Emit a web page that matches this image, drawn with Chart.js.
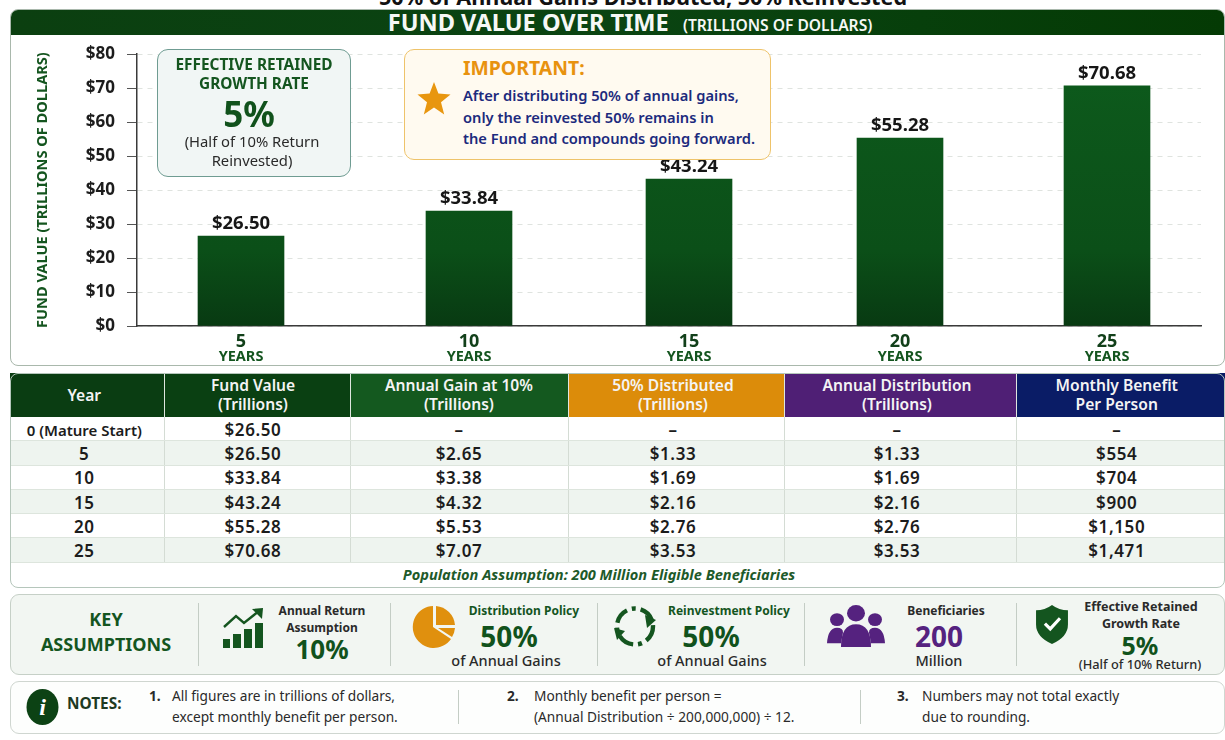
<!DOCTYPE html>
<html>
<head>
<meta charset="utf-8">
<script src="https://cdn.jsdelivr.net/npm/chart.js@4"></script>
<style>
  html, body { margin: 0; padding: 0; background: #fff; }
  body { width: 1225px; height: 740px; position: relative; overflow: hidden; font-family: "Noto Sans", sans-serif; color: #1c1c1c; }
  .abs { position: absolute; }
  .ctr { text-align: center; }
  #topTitle { left: 143px; width: 1000px; top: -13px; font-size: 21.6px; font-weight: 700; color: #111; text-align: center; line-height: 20px; }
  #chartPanel { left: 10px; top: 9px; width: 1215px; height: 357px; box-sizing: border-box; border: 1px solid #a9b8ac; border-radius: 8px; overflow: hidden; }
  #chartHead { left: 0; top: 0; right: 0; height: 25px; padding-left: 25px; background: linear-gradient(90deg, #0b3f10, #0a4412 50%, #043a04); color: #f6f8f6; text-align: center; line-height: 25px; font-size: 23.6px; font-weight: 700; white-space: nowrap; }
  #chartHead span { font-size: 15.6px; font-weight: 600; margin-left: 8px; }
  #fundChart { position: absolute; left: 12px; top: 32px; }
  #rateBox { left: 157px; top: 49px; width: 194px; height: 128px; box-sizing: border-box; border: 1px solid #6f9c92; border-radius: 11px; background: #f1f6f5; }
  #noticeBox { left: 404px; top: 49px; width: 367px; height: 111px; box-sizing: border-box; border: 1px solid #eec36a; border-radius: 10px; background: #fffaf0; }
  table { position: absolute; left: 10px; top: 373px; width: 1215px; border-collapse: collapse; table-layout: fixed; font-size: 15px; font-weight: 700; }
  th { height: 44px; padding: 0; color: #f4f4f4; font-size: 15.6px; line-height: 19px; font-weight: 600; border-right: 1px solid #dfe6df; }
  th:last-child { border-right: 0; }
  td { height: 21.3px; padding: 2px 0 0; text-align: center; border-right: 1px solid #d4dcd4; border-bottom: 1px solid #dde5dd; letter-spacing: .6px; font-size: 17px; font-weight: 600; line-height: 20px; }
  tr:first-child td:first-child { font-size: 15px; letter-spacing: 0; }
  td:last-child { border-right: 0; }
  tbody tr:nth-child(even) { background: #eef4ef; }
  #tableFrame { left: 10px; top: 373px; width: 1215px; height: 215px; box-sizing: border-box; border: 1px solid #b5c6bb; border-radius: 8px; }
  #popNote { left: 10px; width: 1178px; top: 565px; text-align: center; font-style: italic; font-weight: 700; font-size: 14.6px; line-height: 19px; color: #1e5a2a; }
  #keyPanel { left: 10px; top: 594px; width: 1215px; height: 81px; box-sizing: border-box; border: 1px solid #c6d0c7; border-radius: 9px; background: #f2f6f2; }
  #notesPanel { left: 10px; top: 681px; width: 1215px; height: 53px; box-sizing: border-box; border: 1px solid #cfd6d0; border-radius: 9px; background: #fdfefd; }
  .sep { position: absolute; width: 1px; background: #c4cdc5; }
  .note { font-size: 13.7px; line-height: 20.5px; color: #2a2a2a; }
  .num { font-weight: 700; }
  .lab { font-size: 12px; font-weight: 700; color: #2a2a2a; line-height: 17px; }
  .big { font-size: 28px; font-weight: 700; color: #11521c; line-height: 30px; }
  .sub { font-size: 14.5px; font-weight: 500; color: #2a2a2a; line-height: 16px; }
</style>
</head>
<body>
<div id="topTitle" class="abs">50% of Annual Gains Distributed, 50% Reinvested</div>

<div id="chartPanel" class="abs">
  <div id="chartHead" class="abs">FUND VALUE OVER TIME <span>(TRILLIONS OF DOLLARS)</span></div>
</div>
<canvas id="fundChart" width="1200" height="334"></canvas>

<div id="rateBox" class="abs"></div>
<div class="abs ctr" style="left:157px;width:194px;top:56px;font-size:15.4px;font-weight:700;color:#14551f;line-height:18.5px;">EFFECTIVE RETAINED<br>GROWTH RATE</div>
<div class="abs ctr" style="left:157px;width:184px;top:94px;font-size:35px;font-weight:700;color:#11521c;line-height:40px;">5%</div>
<div class="abs ctr" style="left:155px;width:194px;top:132px;font-size:14.8px;color:#2a2a2a;line-height:19px;white-space:nowrap;">(Half of 10% Return<br>Reinvested)</div>

<div id="noticeBox" class="abs"></div>
<svg class="abs" style="left:417px;top:82px" width="34" height="34" viewBox="0 0 34 34"><path d="M17 0 L21.4 11.6 L33.5 12.4 L24 20.2 L27.2 32.5 L17 25.6 L6.8 32.5 L10 20.2 L.5 12.4 L12.6 11.6 Z" fill="#e8960f"/></svg>
<div class="abs" style="left:463px;top:56px;font-size:19.4px;font-weight:700;color:#e8920f;line-height:24px;">IMPORTANT:</div>
<div class="abs" style="left:463px;top:85px;font-size:14.7px;font-weight:600;color:#1c2a7d;line-height:21.7px;white-space:nowrap;">After distributing 50% of annual gains,<br>only the reinvested 50% remains in<br>the Fund and compounds going forward.</div>

<table id="dataTable"><colgroup id="cols"></colgroup><thead><tr id="headRow"></tr></thead><tbody id="bodyRows"></tbody></table>
<div id="tableFrame" class="abs"></div>
<div id="popNote" class="abs">Population Assumption: 200 Million Eligible Beneficiaries</div>

<div id="keyPanel" class="abs"></div>
<div class="sep" style="left:198px;top:603px;height:63px"></div>
<div class="sep" style="left:390px;top:603px;height:63px"></div>
<div class="sep" style="left:597px;top:603px;height:63px"></div>
<div class="sep" style="left:804px;top:603px;height:63px"></div>
<div class="sep" style="left:1016px;top:603px;height:63px"></div>

<div class="abs ctr" style="left:11px;width:190px;top:607px;font-size:18px;font-weight:700;color:#14551f;line-height:25px;">KEY<br>ASSUMPTIONS</div>

<svg class="abs" style="left:223px;top:608px" width="42" height="41" viewBox="0 0 42 41">
  <path d="M1 19 L13 8 L21 15 L36 3" fill="none" stroke="#14551f" stroke-width="2.4"/><path d="M29 1 L40 0 L39 11 Z" fill="#14551f"/>
  <rect x="0" y="31" width="7" height="9" fill="#14551f"/><rect x="10" y="26" width="8" height="14" fill="#14551f"/><rect x="21" y="21" width="8" height="19" fill="#14551f"/><rect x="32" y="15" width="8" height="25" fill="#14551f"/>
</svg>
<div class="abs ctr lab" style="left:272px;width:100px;top:602px">Annual Return<br>Assumption</div>
<div class="abs ctr big" style="left:263px;width:118px;top:634px;font-size:26px">10%</div>

<svg class="abs" style="left:412px;top:606px" width="43" height="43" viewBox="0 0 43 43">
  <path d="M21 21 L21 0 A21 21 0 1 0 39 33 Z" fill="#e0900e"/>
  <path d="M24 19 L24 0 A21 21 0 0 1 43 19 Z" fill="#e0900e"/>
  <path d="M26 22 L43 22 A21 21 0 0 1 40 31 Z" fill="#e0900e"/>
</svg>
<div class="abs ctr lab" style="left:456px;width:136px;top:602px;color:#14551f">Distribution Policy</div>
<div class="abs ctr big" style="left:454px;width:110px;top:621px">50%</div>
<div class="abs ctr sub" style="left:445px;width:122px;top:652px">of Annual Gains</div>

<svg class="abs" style="left:613px;top:605px" width="44" height="43" viewBox="0 0 44 43">
  <circle cx="22" cy="21.5" r="18" fill="none" stroke="#14551f" stroke-width="4.4" stroke-dasharray="16 5 4 5"/>
  <path d="M32 10 L43 15 L34 23 Z" fill="#14551f"/><path d="M1 23 L12 26 L4 35 Z" fill="#14551f"/>
</svg>
<div class="abs ctr lab" style="left:665px;width:128px;top:602px;color:#14551f">Reinvestment Policy</div>
<div class="abs ctr big" style="left:653px;width:116px;top:621px">50%</div>
<div class="abs ctr sub" style="left:647px;width:130px;top:652px">of Annual Gains</div>

<svg class="abs" style="left:827px;top:605px" width="58" height="42" viewBox="0 0 58 46" preserveAspectRatio="none">
  <circle cx="29" cy="9" r="9" fill="#55227f"/><circle cx="10" cy="16" r="7" fill="#55227f"/><circle cx="48" cy="16" r="7" fill="#55227f"/>
  <path d="M0 42 Q1 25 10 25 Q16 25 16 30 L14 42 Z M58 42 Q57 25 48 25 Q42 25 42 30 L44 42 Z" fill="#55227f"/>
  <path d="M14 46 Q14 21 29 21 Q44 21 44 46 Z" fill="#55227f"/>
</svg>
<div class="abs ctr lab" style="left:896px;width:100px;top:602px">Beneficiaries</div>
<div class="abs ctr big" style="left:885px;width:108px;top:621px;color:#55227f">200</div>
<div class="abs ctr sub" style="left:885px;width:108px;top:652px">Million</div>

<svg class="abs" style="left:1035px;top:605px" width="34" height="39" viewBox="0 0 36 44">
  <path d="M18 0 Q26 6 36 6 L36 22 Q36 36 18 44 Q0 36 0 22 L0 6 Q10 6 18 0 Z" fill="#14551f"/>
  <path d="M10 21 L16 27 L27 15" fill="none" stroke="#fff" stroke-width="3.6"/>
</svg>
<div class="abs ctr lab" style="left:1070px;width:142px;top:598px;font-size:12.5px">Effective Retained<br>Growth Rate</div>
<div class="abs ctr big" style="left:1072px;width:136px;top:630px;font-size:25px">5%</div>
<div class="abs ctr" style="left:1060px;width:160px;top:656px;font-size:12.8px;font-weight:500;color:#2a2a2a;line-height:16px">(Half of 10% Return)</div>

<div id="notesPanel" class="abs"></div>
<svg class="abs" style="left:26px;top:689px" width="33" height="36" viewBox="0 0 33 36"><ellipse cx="16.5" cy="18" rx="16" ry="18" fill="#0c4214"/></svg>
<div class="abs ctr" style="left:26px;width:33px;top:693px;font-family:'Liberation Serif',serif;font-style:italic;font-weight:700;font-size:24px;line-height:28px;color:#fff;">i</div>
<div class="abs" style="left:67px;top:694px;font-size:15.4px;font-weight:700;color:#1e3a22;line-height:20px;">NOTES:</div>
<div class="abs note num" style="left:149px;top:686px">1.</div>
<div class="abs note" style="left:172px;top:686px;white-space:nowrap">All figures are in trillions of dollars,<br>except monthly benefit per person.</div>
<div class="sep" style="left:458px;top:690px;height:34px"></div>
<div class="abs note num" style="left:507px;top:686px">2.</div>
<div class="abs note" style="left:534px;top:686px;white-space:nowrap">Monthly benefit per person =<br>(Annual Distribution ÷ 200,000,000) ÷ 12.</div>
<div class="sep" style="left:860px;top:690px;height:34px"></div>
<div class="abs note num" style="left:897px;top:686px">3.</div>
<div class="abs note" style="left:922px;top:686px;white-space:nowrap">Numbers may not total exactly<br>due to rounding.</div>

<script>
const years = ['5', '10', '15', '20', '25'];
const fundValues = [26.5, 33.84, 43.24, 55.28, 70.68];
const barLabels = ['$26.50', '$33.84', '$43.24', '$55.28', '$70.68'];
const unitLabel = 'YEARS';

const tableHeads = [['Year'], ['Fund Value', '(Trillions)'], ['Annual Gain at 10%', '(Trillions)'], ['50% Distributed', '(Trillions)'], ['Annual Distribution', '(Trillions)'], ['Monthly Benefit', 'Per Person']];
const headColors = ['#0a3d12', '#0a4012', '#14591f', '#dc8c0a', '#4f1f75', '#0a1c66'];
const colWidths = [154, 186, 218, 216, 232, 209];
const colShift = [5, 8, 0, 6, 6, 8];
const yearRows = ['0 (Mature Start)', '5', '10', '15', '20', '25'];
const fundCol = ['$26.50', '$26.50', '$33.84', '$43.24', '$55.28', '$70.68'];
const gainCol = ['–', '$2.65', '$3.38', '$4.32', '$5.53', '$7.07'];
const distCol = ['–', '$1.33', '$1.69', '$2.16', '$2.76', '$3.53'];
const annualCol = ['–', '$1.33', '$1.69', '$2.16', '$2.76', '$3.53'];
const benefitCol = ['–', '$554', '$704', '$900', '$1,150', '$1,471'];

// table
document.getElementById('cols').innerHTML = colWidths.map((w) => `<col style="width:${w}px">`).join('');
document.getElementById('headRow').innerHTML = tableHeads.map((h, i) =>
  `<th style="background:${headColors[i]};padding-right:${colShift[i]}px">${h.join('<br>')}</th>`
).join('');
document.getElementById('bodyRows').innerHTML = yearRows.map((y, i) =>
  `<tr>${[y, fundCol[i], gainCol[i], distCol[i], annualCol[i], benefitCol[i]].map((c, j) => `<td style="padding-right:${colShift[j]}px">${c}</td>`).join('')}</tr>`
).join('');

// the picture's bars are not evenly spaced, so the category slots get their own widths
const slotGaps = [228, 220, 211, 207];
class UnevenCategoryScale extends Chart.CategoryScale {
  getPixelForValue(value) {
    const idx = typeof value === 'number' ? value : this.parse(value);
    const total = slotGaps.reduce((a, b) => a + b, 0);
    const done = slotGaps.slice(0, idx).reduce((a, b) => a + b, 0);
    return this.getPixelForDecimal((104 + done) / (104 + total + 94));
  }
}
UnevenCategoryScale.id = 'unevenCategory';
UnevenCategoryScale.defaults = Chart.CategoryScale.defaults;
Chart.register(UnevenCategoryScale);

const barAnnotations = {
  id: 'barAnnotations',
  afterDatasetsDraw(chart) {
    const { ctx, scales } = chart;
    const bars = chart.getDatasetMeta(0).data;
    ctx.save();
    ctx.textAlign = 'center';
    ctx.textBaseline = 'middle';
    bars.forEach((bar, i) => {
      ctx.font = '700 18.5px "Noto Sans"';
      ctx.fillStyle = '#161616';
      ctx.fillText(barLabels[i], bar.x, bar.y - 12);
      ctx.font = '700 14.5px "Noto Sans"';
      ctx.fillStyle = '#14551f';
      ctx.fillText(unitLabel, bar.x, scales.x.top + 31);
    });
    ctx.restore();
  },
};

const canvas = document.getElementById('fundChart');
const barFill = canvas.getContext('2d').createLinearGradient(0, 40, 0, 294);
barFill.addColorStop(0, '#0d5a1c');
barFill.addColorStop(0.7, '#0b4f18');
barFill.addColorStop(1, '#083a12');

new Chart(canvas, {
  type: 'bar',
  plugins: [barAnnotations],
  data: {
    labels: years,
    datasets: [{ data: fundValues, backgroundColor: barFill, barThickness: 86 }],
  },
  options: {
    responsive: false,
    animation: false,
    layout: { padding: { top: 13, right: 11, left: 22, bottom: 0 } },
    plugins: { legend: { display: false }, tooltip: { enabled: false } },
    scales: {
      x: {
        type: 'unevenCategory',
        grid: { display: false },
        border: { color: '#3a3a3a', width: 1.5 },
        ticks: { color: '#12401a', font: { size: 18, weight: '700', family: 'Noto Sans' }, padding: -3, maxRotation: 0 },
        afterFit: (s) => { s.height = 40; },
      },
      y: {
        min: 0,
        max: 80,
        afterFit: (s) => { s.width = 103; },
        border: { color: '#3a3a3a', width: 1.5, dash: [5, 5] },
        grid: { color: '#dfe3df', tickColor: '#555', tickLength: 10, tickBorderDash: [] },
        ticks: {
          stepSize: 10,
          color: '#1c1c1c',
          padding: 12,
          font: { size: 17, weight: '700', family: 'Noto Sans' },
          callback: (v) => '$' + v,
        },
        title: {
          display: true,
          text: 'FUND VALUE (TRILLIONS OF DOLLARS)',
          color: '#14551f',
          font: { size: 14.6, weight: '700', family: 'Noto Sans' },
          padding: 0,
        },
      },
    },
  },
});
</script>
</body>
</html>
